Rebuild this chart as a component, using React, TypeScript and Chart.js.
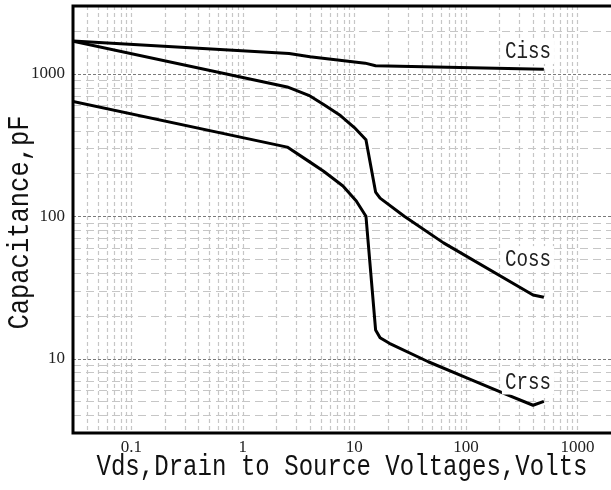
import React, { useEffect, useRef } from 'react';
import { Chart, registerables } from 'chart.js';
Chart.register(...registerables);

// ---- data ----
const cissV = [0.03, 2.6, 4, 12.5, 15.5, 500];
const cissC = [1700, 1390, 1320, 1190, 1140, 1080];
const cossV = [0.03, 2.5, 4, 5.3, 7.5, 10, 12.7, 15.5, 17, 28, 63, 400, 500];
const cossC = [1700, 810, 700, 610, 510, 420, 345, 148, 134, 100, 65, 28, 27];
const crssV = [0.03, 2.5, 4, 5.3, 7.9, 10.4, 12.7, 15.5, 17, 20.6, 46, 103, 230, 400, 500];
const crssC = [640, 306, 240, 207, 163, 128, 100, 15.9, 14, 12.8, 9.5, 7.3, 5.6, 4.7, 5.0];

const seriesNames = ['Ciss', 'Coss', 'Crss'];
const labelV = [360, 360, 360];
const labelC = [1450, 50, 6.9];

const xTicks = [0.1, 1, 10, 100, 1000];
const xTickLabels = ['0.1', '1', '10', '100', '1000'];
const yTicks = [10, 100, 1000];
const yTickLabels = ['10', '100', '1000'];

const xMin = 0.03;
const xMax = 2000;
const yMin = 3;
const yMax = 3000;

const xTitle = 'Vds,Drain to Source Voltages,Volts';
const yTitle = 'Capacitance,pF';

const toPts = (xs: number[], ys: number[]) => xs.map((v, i) => ({ x: v, y: ys[i] }));

const drawNarrowText = (
  ctx: CanvasRenderingContext2D,
  text: string,
  cx: number,
  cy: number,
  size: number,
  sx: number,
  rotate: boolean
) => {
  ctx.save();
  ctx.translate(cx, cy);
  if (rotate) ctx.rotate(-Math.PI / 2);
  ctx.scale(sx, 1);
  ctx.font = `${size}px "Liberation Mono"`;
  ctx.textAlign = 'center';
  ctx.textBaseline = 'middle';
  ctx.fillText(text, 0, 0);
  ctx.restore();
};

const gridPlugin = {
  id: 'customGrid',
  beforeDatasetsDraw(chart: any) {
    const { ctx, chartArea: a, scales } = chart;
    const x = scales.x;
    const y = scales.y;
    ctx.save();
    ctx.beginPath();
    ctx.rect(a.left, a.top, a.right - a.left, a.bottom - a.top);
    ctx.clip();
    const line = (x1: number, y1: number, x2: number, y2: number) => {
      ctx.beginPath();
      ctx.moveTo(x1, y1);
      ctx.lineTo(x2, y2);
      ctx.stroke();
    };
    // vertical grid
    ctx.strokeStyle = '#c6c6c6';
    ctx.lineWidth = 1.2;
    ctx.setLineDash([4, 3]);
    for (let e = -2; e <= 3; e++) {
      for (let m = 1; m <= 9; m++) {
        const v = m * Math.pow(10, e);
        if (v <= xMin * 1.001 || v >= xMax * 0.999) continue;
        const px = Math.round(x.getPixelForValue(v)) + 0.5;
        line(px, a.top, px, a.bottom);
      }
    }
    // horizontal minor grid
    ctx.setLineDash([8, 5]);
    for (let e = 0; e <= 3; e++) {
      for (let m = 2; m <= 9; m++) {
        const v = m * Math.pow(10, e);
        if (v <= yMin * 1.001 || v >= yMax * 0.999) continue;
        const py = Math.round(y.getPixelForValue(v)) + 0.5;
        line(a.left, py, a.right, py);
      }
    }
    // horizontal decade lines
    ctx.strokeStyle = '#7a7a7a';
    ctx.lineWidth = 1;
    ctx.setLineDash([3, 2]);
    for (const v of yTicks) {
      const py = Math.round(y.getPixelForValue(v)) + 0.5;
      line(a.left, py, a.right, py);
    }
    ctx.restore();
  },
  afterDatasetsDraw(chart: any) {
    const { ctx, chartArea: a, scales } = chart;
    const x = scales.x;
    const y = scales.y;
    ctx.save();
    // series labels
    seriesNames.forEach((name, i) => {
      const px = x.getPixelForValue(labelV[i]);
      const py = y.getPixelForValue(labelC[i]);
      const w = name.length * 0.6 * 24 * 0.8;
      ctx.fillStyle = '#ffffff';
      ctx.fillRect(px - w / 2 - 3, py - 13, w + 6, 26);
      ctx.fillStyle = '#222';
      drawNarrowText(ctx, name, px, py + 1, 24, 0.8, false);
    });
    // frame (left, top, bottom)
    ctx.strokeStyle = '#000';
    ctx.lineWidth = 3;
    ctx.setLineDash([]);
    ctx.beginPath();
    ctx.moveTo(a.right + 2, a.top);
    ctx.lineTo(a.left, a.top);
    ctx.lineTo(a.left, a.bottom);
    ctx.lineTo(a.right + 2, a.bottom);
    ctx.stroke();
    ctx.restore();
  },
  afterDraw(chart: any) {
    const { ctx, chartArea: a } = chart;
    ctx.save();
    ctx.fillStyle = '#111';
    drawNarrowText(ctx, xTitle, 342, 467, 29, 0.83, false);
    drawNarrowText(ctx, yTitle, 20, (a.top + a.bottom) / 2 + 3, 30, 0.85, true);
    ctx.restore();
  },
};

export default function App() {
  const ref = useRef<HTMLCanvasElement | null>(null);
  useEffect(() => {
    if (!ref.current) return;
    const lineDs = (label: string, xs: number[], ys: number[]) => ({
      label,
      data: toPts(xs, ys),
      borderColor: '#000',
      backgroundColor: '#000',
      borderWidth: 3,
      pointRadius: 0,
      fill: false,
      tension: 0,
      borderJoinStyle: 'round' as const,
    });
    const chart = new Chart(ref.current, {
      type: 'line',
      data: {
        datasets: [
          lineDs('Ciss', cissV, cissC),
          lineDs('Coss', cossV, cossC),
          lineDs('Crss', crssV, crssC),
        ],
      },
      options: {
        responsive: false,
        animation: false,
        layout: { padding: { top: 6, right: 0, bottom: 0, left: 0 } },
        plugins: { legend: { display: false }, tooltip: { enabled: false } },
        scales: {
          x: {
            type: 'logarithmic',
            min: xMin,
            max: xMax,
            afterBuildTicks: (s: any) => {
              s.ticks = xTicks.map((v) => ({ value: v }));
            },
            afterFit: (s: any) => {
              s.height = 57;
              s.paddingLeft = 0;
              s.paddingRight = 0;
            },
            ticks: {
              callback: (_v: any, i: number) => xTickLabels[i] ?? '',
              font: { family: 'Liberation Serif', size: 17 },
              color: '#222',
              padding: 4,
              maxRotation: 0,
              autoSkip: false,
            },
            grid: { display: false, drawTicks: false },
            border: { display: false },
            title: { display: false },
          },
          y: {
            type: 'logarithmic',
            min: yMin,
            max: yMax,
            afterBuildTicks: (s: any) => {
              s.ticks = yTicks.map((v) => ({ value: v }));
            },
            afterFit: (s: any) => {
              s.width = 73;
              s.paddingTop = 0;
              s.paddingBottom = 0;
            },
            ticks: {
              callback: (_v: any, i: number) => yTickLabels[i] ?? '',
              font: { family: 'Liberation Serif', size: 17 },
              color: '#222',
              padding: 8,
              autoSkip: false,
            },
            grid: { display: false, drawTicks: false },
            border: { display: false },
            title: { display: false },
          },
        },
      },
      plugins: [gridPlugin],
    });
    return () => chart.destroy();
  }, []);
  return (
    <div style={{ position: 'fixed', left: 0, top: 0, width: 611, height: 490, background: '#fff' }}>
      <canvas ref={ref} width={611} height={490} style={{ display: 'block' }} />
    </div>
  );
}
